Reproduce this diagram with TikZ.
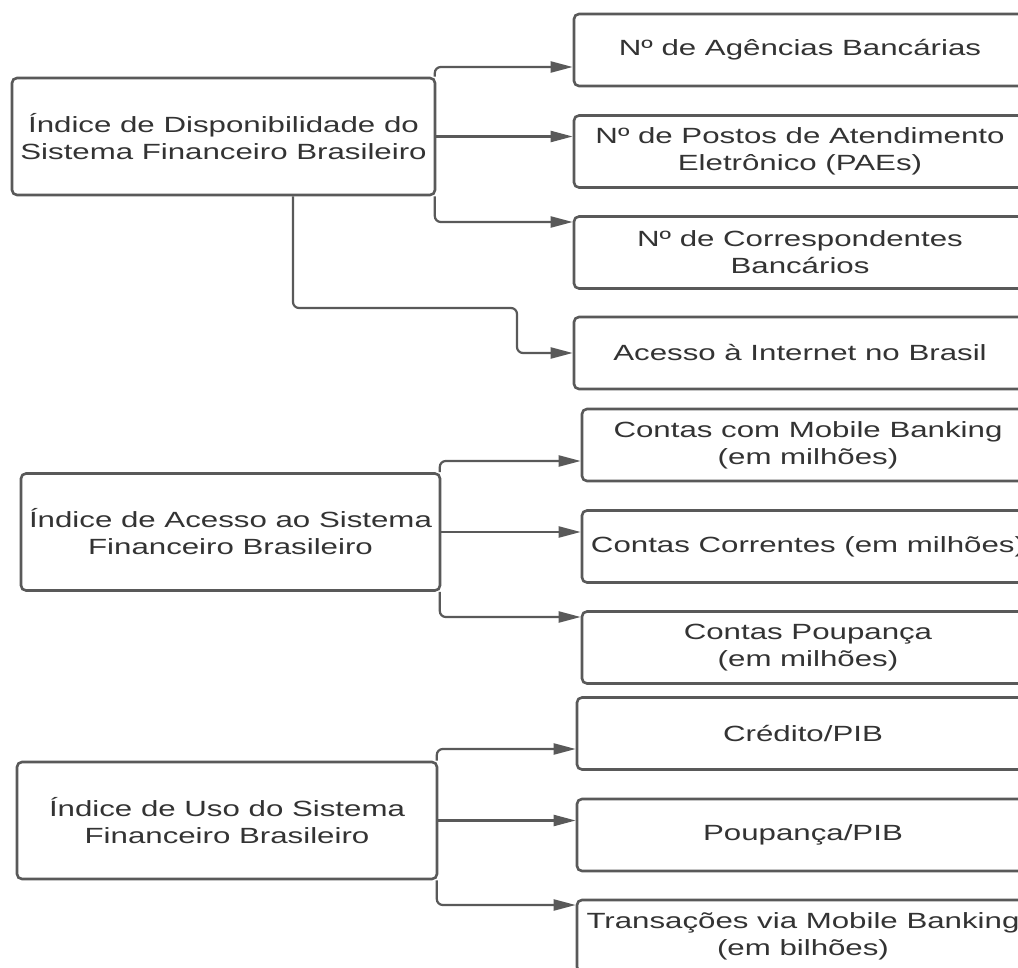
\documentclass[tikz,border=0pt]{standalone}
\usepackage{fontspec}
\setmainfont{Liberation Sans}[FakeStretch=1.42]
\usetikzlibrary{arrows.meta}
\definecolor{edge}{HTML}{595959}
\definecolor{ink}{HTML}{333333}
\tikzset{
  box/.style={draw=edge, line width=2.6pt, rounded corners=5pt, fill=white,
    text=ink, align=center, font=\fontsize{22}{27}\selectfont, inner sep=0pt},
  srcbox/.style={box, minimum width=#1, minimum height=117pt},
  leafbox/.style={box, minimum width=452pt, minimum height=72pt},
  conn/.style={draw=edge, line width=2.2pt, rounded corners=6pt,
    -{Triangle[length=22pt,width=11pt]}},
}
\begin{document}
\begin{tikzpicture}[x=1pt,y=-1pt]
\useasboundingbox (0,0) rectangle (1018,968);
\fill[white] (0,0) rectangle (1018,968);
\clip (0,0) rectangle (1018,968);

% group 1
\node[srcbox=423pt] (s1) at (223.5,136.5) {Índice de Disponibilidade do\\Sistema Financeiro Brasileiro};
\node[leafbox] (b1) at (800,50) {Nº de Agências Bancárias};
\node[leafbox] (b2) at (800,151.5) {Nº de Postos de Atendimento\\Eletrônico (PAEs)};
\node[leafbox] (b3) at (800,252.5) {Nº de Correspondentes\\Bancários};
\node[leafbox] (b4) at (800,353) {Acesso à Internet no Brasil};

% group 2
\node[srcbox=419pt] (s2) at (230.5,532) {Índice de Acesso ao Sistema\\Financeiro Brasileiro};
\node[leafbox] (c1) at (808,445) {Contas com Mobile Banking\\(em milhões)};
\node[leafbox] (c2) at (808,546.5) {Contas Correntes (em milhões)};
\node[leafbox] (c3) at (808,647.5) {Contas Poupança\\(em milhões)};

% group 3
\node[srcbox=420pt] (s3) at (227,820.5) {Índice de Uso do Sistema\\Financeiro Brasileiro};
\node[leafbox] (d1) at (803,733.5) {Crédito/PIB};
\node[leafbox] (d2) at (803,835) {Poupança/PIB};
\node[leafbox] (d3) at (803,936) {Transações via Mobile Banking\\(em bilhões)};

% connectors group 1
\draw[conn] ([xshift=-1.5pt]s1.north east) |- (b1.west |- 0,67);
\draw[conn] (s1.east) -- (b2.west |- s1.east);
\draw[conn] ([xshift=-1.5pt]s1.south east) |- (b3.west |- 0,222);
\draw[conn] (s1.south -| 293,0) |- (517,308) |- (b4.west);

% connectors group 2
\draw[conn] ([xshift=-1.5pt]s2.north east) |- (c1.west |- 0,461);
\draw[conn] (s2.east) -- (c2.west |- s2.east);
\draw[conn] ([xshift=-1.5pt]s2.south east) |- (c3.west |- 0,617);

% connectors group 3
\draw[conn] ([xshift=-1.5pt]s3.north east) |- (d1.west |- 0,749);
\draw[conn] (s3.east) -- (d2.west |- s3.east);
\draw[conn] ([xshift=-1.5pt]s3.south east) |- (d3.west |- 0,905);
\end{tikzpicture}
\end{document}
